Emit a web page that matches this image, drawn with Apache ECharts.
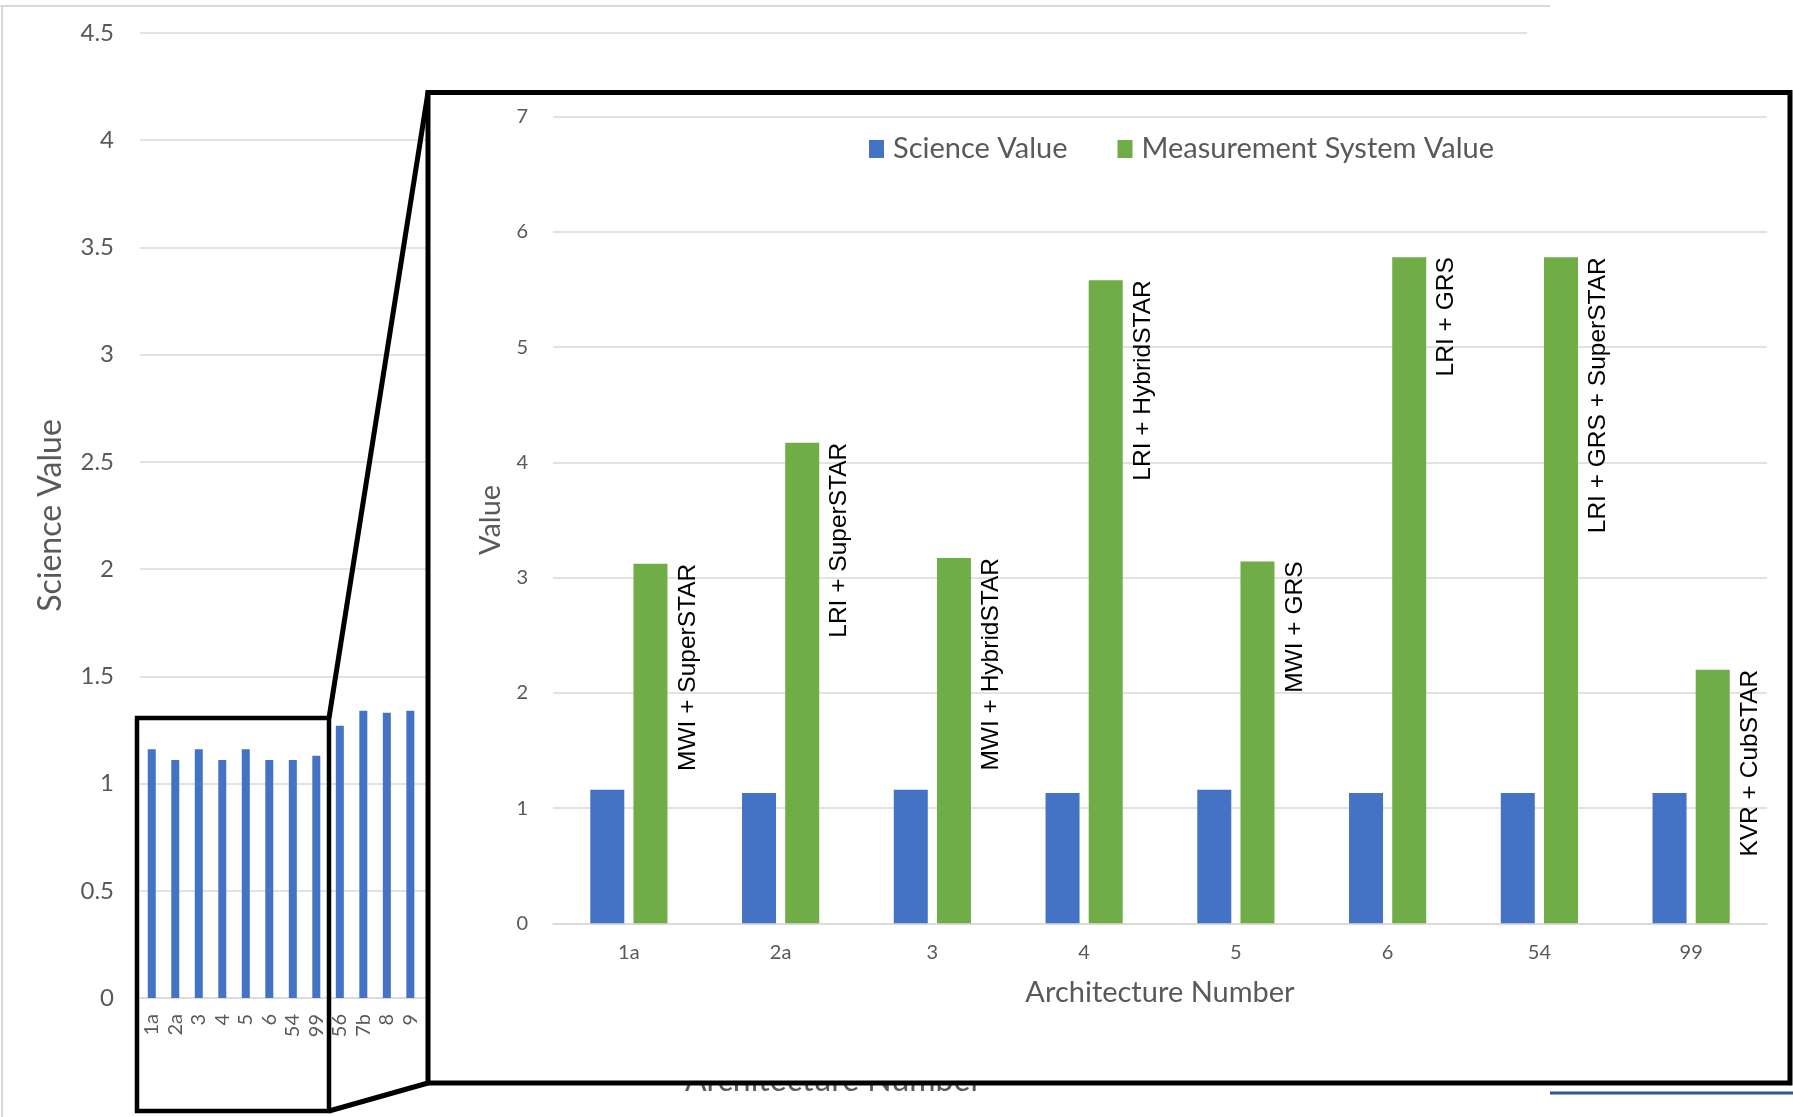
<!DOCTYPE html>
<html>
<head>
<meta charset="utf-8">
<script src="https://cdn.jsdelivr.net/npm/echarts@6/dist/echarts.min.js"></script>
<style>
  html, body { margin: 0; padding: 0; background: #fff; }
  #main { width: 1793px; height: 1117px; }
</style>
</head>
<body>
<div id="main"></div>
<script>
// background chart (only the first 12 architectures are visible)
var bgCategories = ['1a', '2a', '3', '4', '5', '6', '54', '99', '56', '7b', '8', '9'];
var bgScience = [1.16, 1.11, 1.16, 1.11, 1.16, 1.11, 1.11, 1.13, 1.27, 1.34, 1.33, 1.34];
var bgHiddenCount = 47; // rest of the axis sits under the inset
var bgYTicks = { min: 0, max: 4.5, interval: 0.5 };

// inset chart
var insetCategories = ['1a', '2a', '3', '4', '5', '6', '54', '99'];
var insetScience = [1.16, 1.13, 1.16, 1.13, 1.16, 1.13, 1.13, 1.13];
var insetMeasurement = [3.12, 4.17, 3.17, 5.58, 3.14, 5.78, 5.78, 2.20];
var insetLabels = ['MWI + SuperSTAR', 'LRI + SuperSTAR', 'MWI + HybridSTAR', 'LRI + HybridSTAR',
                   'MWI + GRS', 'LRI + GRS', 'LRI + GRS + SuperSTAR', 'KVR + CubSTAR'];
var insetYTicks = { min: 0, max: 7, interval: 1 };

var BLUE = '#4472C4';
var GREEN = '#70AD47';
var GREY_TEXT = '#595959';
var GRID_LINE = '#D9D9D9';
var FONT = 'Lato, "Open Sans", sans-serif';

var bgAxisData = bgCategories.concat(new Array(bgHiddenCount).fill(''));

var myChart = echarts.init(document.getElementById('main'));
var option = {
    animation: false,
    textStyle: { fontFamily: FONT },
    legend: {
        left: 869,
        top: 134.5,
        padding: 0,
        itemWidth: 15,
        itemHeight: 18,
        itemGap: 50,
        z: 20,
        textStyle: { fontSize: 29, color: GREY_TEXT, fontFamily: FONT, padding: [0, 0, 0, 4] },
        data: [
            { name: 'Science Value', icon: 'rect', itemStyle: { color: BLUE } },
            { name: 'Measurement System Value', icon: 'rect', itemStyle: { color: GREEN } }
        ]
    },
    grid: [
        { left: 140, right: 266, top: 33, bottom: 119 },
        { left: 553, right: 26, top: 116.7, bottom: 193.7, z: 10 }
    ],
    xAxis: [{
        type: 'category',
        gridIndex: 0,
        data: bgAxisData,
        name: 'Architecture Number',
        nameLocation: 'middle',
        nameGap: 67,
        nameTextStyle: { fontSize: 32, color: GREY_TEXT, fontFamily: FONT },
        axisLine: { lineStyle: { color: GRID_LINE, width: 1.5 } },
        axisTick: { show: false },
        axisLabel: { interval: 0, rotate: 90, margin: 16, fontSize: 20, color: GREY_TEXT, fontFamily: FONT }
    }, {
        type: 'category',
        gridIndex: 1,
        data: insetCategories,
        z: 10,
        name: 'Architecture Number',
        nameLocation: 'middle',
        nameGap: 55,
        nameTextStyle: { fontSize: 29, color: GREY_TEXT, fontFamily: FONT },
        axisLine: { lineStyle: { color: GRID_LINE, width: 1.5 } },
        axisTick: { show: false },
        axisLabel: { margin: 19, fontSize: 20, color: GREY_TEXT, fontFamily: FONT }
    }],
    yAxis: [{
        type: 'value',
        gridIndex: 0,
        min: bgYTicks.min,
        max: bgYTicks.max,
        interval: bgYTicks.interval,
        name: 'Science Value',
        nameLocation: 'middle',
        nameGap: 73,
        nameTextStyle: { fontSize: 32, color: GREY_TEXT, fontFamily: FONT },
        axisLine: { show: false },
        axisTick: { show: false },
        axisLabel: { margin: 26, fontSize: 24, color: GREY_TEXT, fontFamily: FONT },
        splitLine: { lineStyle: { color: GRID_LINE, width: 1.5 } }
    }, {
        type: 'value',
        gridIndex: 1,
        z: 10,
        min: insetYTicks.min,
        max: insetYTicks.max,
        interval: insetYTicks.interval,
        name: 'Value',
        nameLocation: 'middle',
        nameGap: 46,
        nameTextStyle: { fontSize: 29, color: GREY_TEXT, fontFamily: FONT },
        axisLine: { show: false },
        axisTick: { show: false },
        axisLabel: { margin: 25, fontSize: 20, color: GREY_TEXT, fontFamily: FONT },
        splitLine: { lineStyle: { color: GRID_LINE, width: 1.5 } }
    }],
    series: [{
        name: 'bg science',
        type: 'bar',
        xAxisIndex: 0,
        yAxisIndex: 0,
        barWidth: 8,
        itemStyle: { color: BLUE },
        data: bgScience
    }, {
        name: 'Science Value',
        type: 'bar',
        xAxisIndex: 1,
        yAxisIndex: 1,
        z: 10,
        barWidth: 34,
        barGap: '27%',
        itemStyle: { color: BLUE },
        data: insetScience
    }, {
        name: 'Measurement System Value',
        type: 'bar',
        xAxisIndex: 1,
        yAxisIndex: 1,
        z: 10,
        barWidth: 34,
        barGap: '27%',
        itemStyle: { color: GREEN },
        label: {
            show: true,
            position: ['100%', 0],
            rotate: 90,
            align: 'right',
            verticalAlign: 'top',
            padding: [8, 0, 0, 0],
            fontSize: 24.5,
            color: '#000',
            fontFamily: '"Liberation Sans", Arial, sans-serif',
            formatter: function (p) { return insetLabels[p.dataIndex]; }
        },
        data: insetMeasurement
    }],
    graphic: [
        // outer chart border (top and left only)
        { type: 'line', z: 1, shape: { x1: 0, y1: 6, x2: 1550, y2: 6 }, style: { stroke: GRID_LINE, lineWidth: 2 } },
        { type: 'line', z: 1, shape: { x1: 2, y1: 6, x2: 2, y2: 1117 }, style: { stroke: GRID_LINE, lineWidth: 2 } },
        { type: 'line', z: 1, shape: { x1: 1550, y1: 1093, x2: 1793, y2: 1093 }, style: { stroke: '#2F5597', lineWidth: 3 } },
        // zoom box and the lines to the inset
        { type: 'rect', z: 6, shape: { x: 137, y: 718, width: 192, height: 393 }, style: { fill: null, stroke: '#000', lineWidth: 4.5 } },
        { type: 'line', z: 6, shape: { x1: 329, y1: 718, x2: 428, y2: 92.5 }, style: { stroke: '#000', lineWidth: 5 } },
        { type: 'line', z: 6, shape: { x1: 329, y1: 1111, x2: 428, y2: 1083 }, style: { stroke: '#000', lineWidth: 5 } },
        // inset frame
        { type: 'rect', z: 5, shape: { x: 428, y: 92.5, width: 1362, height: 990.5 }, style: { fill: '#fff', stroke: '#000', lineWidth: 5 } }
    ]
};
myChart.setOption(option);
</script>
</body>
</html>
